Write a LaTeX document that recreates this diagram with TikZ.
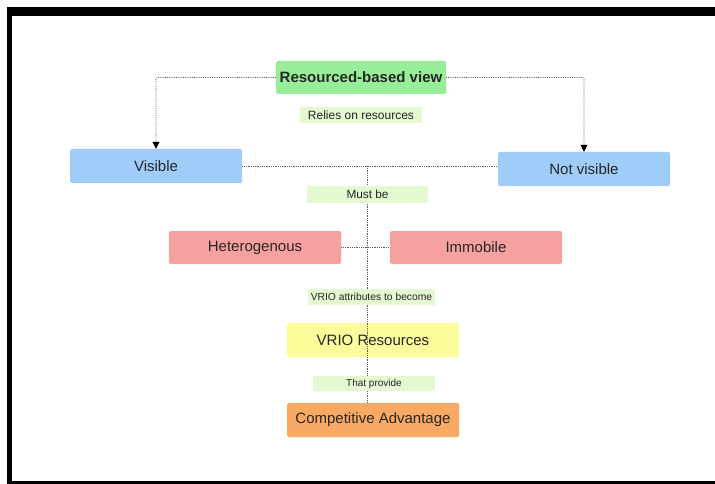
\documentclass[tikz,border=0pt]{standalone}
\usepackage{fontspec}
\setmainfont{Liberation Sans}
\usetikzlibrary{arrows.meta}

\definecolor{rbvgreen}{HTML}{98EE98}
\definecolor{visblue}{HTML}{9FCCF8}
\definecolor{resred}{HTML}{F7A0A0}
\definecolor{vrioyellow}{HTML}{FCFC9A}
\definecolor{advorange}{HTML}{F8AA64}
\definecolor{tagfill}{HTML}{E4F8D2}
\definecolor{linkgray}{HTML}{5A5A5A}

\begin{document}
\begin{tikzpicture}[x=1pt, y=-1pt,
  box/.style={rounded corners=1.5pt, minimum width=172pt, minimum height=34pt,
    inner sep=0pt, text=black!85, font=\fontsize{15}{17}\selectfont},
  tag/.style={fill=tagfill, minimum height=16pt, inner sep=0pt, text=black!85},
  link/.style={linkgray, densely dotted, line width=0.8pt},
  tip/.style={-{Triangle[length=7pt,width=7pt,color=black]}, rounded corners=2pt}]

\useasboundingbox (0,0) rectangle (715,484);

% frame
\fill[black] (7,7) rectangle (715,16);
\fill[black] (7,7) rectangle (12,484);
\fill[black] (7,481) rectangle (715,484);

\node[box, fill=rbvgreen, minimum width=170pt, minimum height=33pt,
  font=\fontsize{15}{17}\selectfont\bfseries] (rbv) at (361,77.5) {Resourced-based view};
\node[box, fill=visblue] (visible) at (156,166) {Visible};
\node[box, fill=visblue] (notvis) at (584,169) {Not visible};
\node[box, fill=resred, minimum height=33pt] (hetero) at (255,247.5) {Heterogenous};
\node[box, fill=resred, minimum height=33pt] (immob) at (476,247.5) {Immobile};
\node[box, fill=vrioyellow] (vrio) at (373,340) {VRIO Resources};
\node[box, fill=advorange] (compadv) at (373,420) {Competitive Advantage};

\coordinate (hub) at (367,166);

\draw[link, tip] (rbv.west) -| (visible.north);
\draw[link, tip] (rbv.east) -| (notvis.north);
\draw[link] (visible.east) -- (visible.east -| notvis.west);
\draw[link] (hetero.east) -- (immob.west);
\draw[link] (hub) -- (hub |- compadv.north);

\node[tag, minimum width=122pt, font=\fontsize{12}{14}\selectfont] (relies) at (361,115) {Relies on resources};
\node[tag, minimum width=121pt, minimum height=17pt, font=\fontsize{11.8}{14}\selectfont] (mustbe) at (367.5,194.5) {Must be};
\node[tag, minimum width=127pt, font=\fontsize{10.3}{12}\selectfont] (vrioattr) at (371.5,297) {VRIO attributes to become};
\node[tag, minimum width=122pt, minimum height=15pt, font=\fontsize{10}{12}\selectfont] (thatprov) at (374,383.5) {That provide};

\end{tikzpicture}
\end{document}
